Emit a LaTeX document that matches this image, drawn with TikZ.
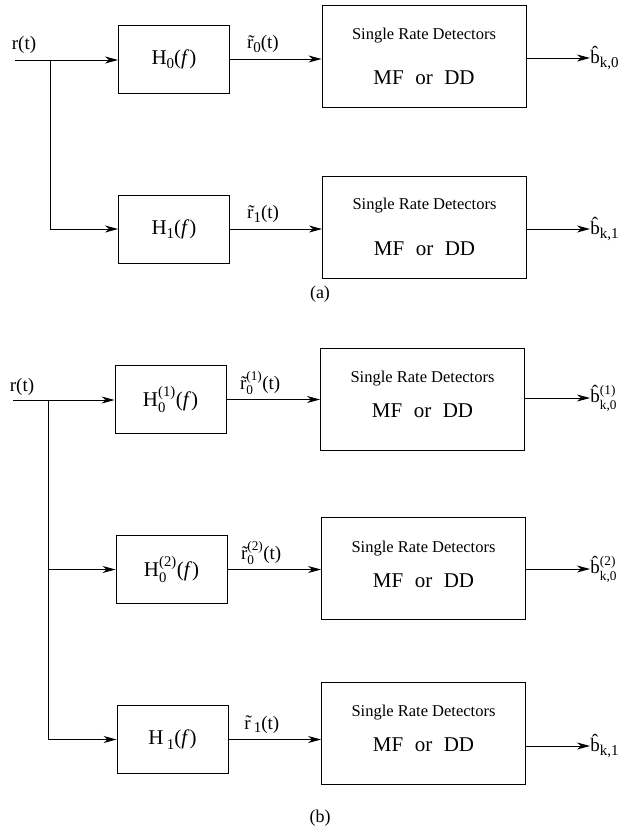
\documentclass[tikz,border=0pt]{standalone}
\usepackage{amsmath}
\usepackage{fontspec}
\setmainfont{Liberation Serif}
\usetikzlibrary{arrows.meta}
\newcommand{\ff}{\textit{f}}
\newcommand{\sbs}[1]{\raisebox{-0.45ex}{\fontsize{15}{15}\selectfont #1}}
\begin{document}
\begin{tikzpicture}[x=1pt,y=-1pt,
  line width=0.9pt,
  arr/.style={-{Stealth[length=13pt,width=7pt,inset=4pt]}},
  filt/.style={draw,minimum width=111pt,minimum height=68pt,inner sep=0pt,font=\fontsize{21}{24}\selectfont},
  det/.style={draw,minimum width=204pt,minimum height=102pt,inner sep=0pt},
  dtop/.style={font=\fontsize{16.5}{19}\selectfont,inner sep=0pt},
  dbot/.style={font=\fontsize{21}{24}\selectfont,inner sep=0pt},
  lab/.style={font=\fontsize{19}{22}\selectfont,inner sep=0pt},
  outl/.style={font=\fontsize{19}{22}\selectfont,inner sep=0pt,anchor=west},
  captxt/.style={font=\fontsize{18}{21}\selectfont,inner sep=0pt}]
\useasboundingbox (0,0) rectangle (641,831);
% ---------------- (a)
\node[filt] (H0a) at (174,59) {H\sbs{0}(\ff)};
\node[filt] (H1a) at (174,229) {H\sbs{1}(\ff)};
\node[det] (Da0) at (424,56.5) {};
\node[det] (Da1) at (424.5,227) {};
\node[dtop] (Da0t) at (Da0.center) [yshift=21pt] {Single Rate Detectors};
\node[dbot] (Da0b) at (Da0.center) [yshift=-21pt] {MF\hspace{0.55em}or\hspace{0.55em}DD};
\node[dtop] (Da1t) at (Da1.center) [yshift=21pt] {Single Rate Detectors};
\node[dbot] (Da1b) at (Da1.center) [yshift=-22pt] {MF\hspace{0.55em}or\hspace{0.55em}DD};
\node[lab] (ra) at (24,45) {r(t)};
\coordinate (ina) at (15,60);
\coordinate (bra) at (50,60);
\draw[arr] (ina) -- (H0a.west |- ina);
\draw[arr] (bra) |- (H1a.west);
\draw[arr] (H0a.east) -- (H0a.east -| Da0.west) node[lab,pos=0.36,above=6pt] (r0a) {\~{r}\sbs{0}(t)};
\draw[arr] (H1a.east) -- (H1a.east -| Da1.west) node[lab,pos=0.36,above=6pt] (r1a) {\~{r}\sbs{1}(t)};
\node[outl] (ba0) at (590,58) {\^{b}\sbs{k,0}};
\node[outl] (ba1) at (590,229) {\^{b}\sbs{k,1}};
\draw[arr] (Da0.east |- ba0.west) -- (ba0.west);
\draw[arr] (Da1.east |- ba1.west) -- (ba1.west);
\node[captxt] (capa) at (320,294) {(a)};
% ---------------- (b)
\node[filt] (H0b1) at (170.5,399.5) {H$^{\text{(1)}}_{\text{0}}$(\ff)};
\node[filt] (H0b2) at (171.5,569.5) {H$^{\text{(2)}}_{\text{0}}$(\ff)};
\node[filt] (H1b) at (172.5,739.5) {H\,\sbs{1}(\ff)};
\node[det] (Db1) at (422.5,399) {};
\node[det] (Db2) at (423.5,568.5) {};
\node[det] (Db3) at (423.5,733) {};
\foreach \n in {Db1,Db2,Db3}{
  \node[dtop] (\n t) at (\n.center) [yshift=20pt] {Single Rate Detectors};
  \node[dbot] (\n b) at (\n.center) [yshift=-12pt] {MF\hspace{0.55em}or\hspace{0.55em}DD};
}
\node[lab] (rb) at (22,387) {r(t)};
\coordinate (inb) at (13,400);
\coordinate (brb) at (48,400);
\draw[arr] (inb) -- (H0b1.west |- inb);
\draw (brb) -- (brb |- H1b.west);
\draw[arr] (brb |- H0b2.west) -- (H0b2.west);
\draw[arr] (brb |- H1b.west) -- (H1b.west);
\draw[arr] (H0b1.east) -- (H0b1.east -| Db1.west) node[lab,pos=0.36,above=4pt] (r0b1) {\~{r}$^{\text{(1)}}_{\text{0}}$(t)};
\draw[arr] (H0b2.east) -- (H0b2.east -| Db2.west) node[lab,pos=0.36,above=4pt] (r0b2) {\~{r}$^{\text{(2)}}_{\text{0}}$(t)};
\draw[arr] (H1b.east) -- (H1b.east -| Db3.west) node[lab,pos=0.36,above=6pt] (r1b) {\~{r}\,\sbs{1}(t)};
\node[outl] (bb1) at (590,398) {\^{b}$^{\text{(1)}}_{\text{k,0}}$};
\node[outl] (bb2) at (590,569) {\^{b}$^{\text{(2)}}_{\text{k,0}}$};
\node[outl] (bb3) at (590,746) {\^{b}\sbs{k,1}};
\draw[arr] (Db1.east |- bb1.west) -- (bb1.west);
\draw[arr] (Db2.east |- bb2.west) -- (bb2.west);
\draw[arr] (Db3.east |- bb3.west) -- (bb3.west);
\node[captxt] (capb) at (320,818) {(b)};
\end{tikzpicture}
\end{document}
